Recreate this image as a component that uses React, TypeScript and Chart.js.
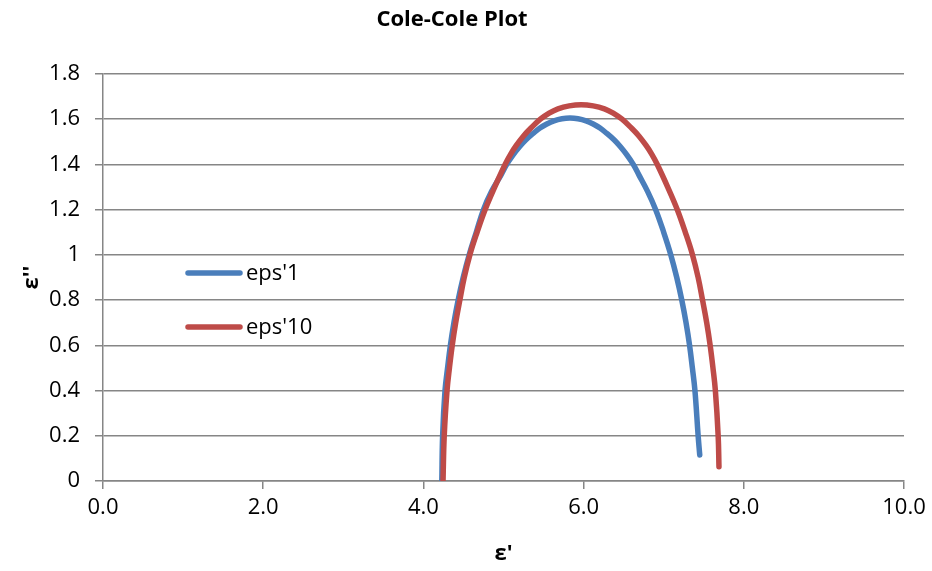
import React, { useEffect, useRef } from "react";
import { Chart, registerables } from "chart.js";

Chart.register(...registerables);

const chartTitle = "Cole-Cole Plot";
const xAxisTitle = "ε'";
const yAxisTitle = "ε''";

const seriesNames = ["eps'1", "eps'10"];
const seriesColors = ["#4A7EBB", "#BE4B48"];

const blueX = [4.23, 4.24, 4.27, 4.302, 4.337, 4.381, 4.434, 4.497, 4.571, 4.66, 4.75, 4.85, 4.97, 5.04, 5.12, 5.2, 5.28, 5.37, 5.455, 5.54, 5.63, 5.73, 5.83, 5.93, 6.03, 6.12, 6.205, 6.29, 6.38, 6.46, 6.54, 6.62, 6.69, 6.8, 6.9, 7.0, 7.089, 7.163, 7.226, 7.279, 7.323, 7.358, 7.39, 7.43, 7.45];
const blueY = [0.0, 0.2, 0.4, 0.5, 0.6, 0.7, 0.8, 0.9, 1.0, 1.1, 1.2, 1.28, 1.354, 1.4, 1.442, 1.478, 1.509, 1.537, 1.561, 1.579, 1.593, 1.602, 1.605, 1.602, 1.593, 1.579, 1.561, 1.537, 1.509, 1.478, 1.442, 1.4, 1.354, 1.28, 1.2, 1.1, 1.0, 0.9, 0.8, 0.7, 0.6, 0.5, 0.4, 0.2, 0.115];

const redX = [4.245, 4.26, 4.295, 4.325, 4.36, 4.403, 4.455, 4.51, 4.58, 4.67, 4.77, 4.89, 5.02, 5.09, 5.16, 5.25, 5.34, 5.46, 5.57, 5.68, 5.82, 5.97, 6.12, 6.26, 6.37, 6.48, 6.6, 6.69, 6.78, 6.85, 6.92, 7.05, 7.17, 7.27, 7.36, 7.43, 7.485, 7.537, 7.58, 7.615, 7.645, 7.68, 7.69];
const redY = [0.0, 0.2, 0.4, 0.5, 0.6, 0.7, 0.8, 0.9, 1.0, 1.1, 1.2, 1.3, 1.4, 1.446, 1.484, 1.526, 1.56, 1.6, 1.627, 1.646, 1.659, 1.664, 1.659, 1.646, 1.627, 1.6, 1.56, 1.526, 1.484, 1.446, 1.4, 1.3, 1.2, 1.1, 1.0, 0.9, 0.8, 0.7, 0.6, 0.5, 0.4, 0.2, 0.063];

const xMin = 0, xMax = 10, xStep = 2;
const yMin = 0, yMax = 1.8, yStep = 0.2;

const FONT = "'Open Sans', 'Liberation Sans', sans-serif";

const toPoints = (xs: number[], ys: number[]) => xs.map((x, i) => ({ x, y: ys[i] }));

const insideLegend = {
  id: "insideLegend",
  afterDatasetsDraw(chart: any) {
    const { ctx, chartArea } = chart;
    ctx.save();
    chart.data.datasets.forEach((ds: any, i: number) => {
      const y = chartArea.top + 199 + i * 54;
      const x0 = chartArea.left + 85;
      const x1 = chartArea.left + 137;
      ctx.strokeStyle = ds.borderColor;
      ctx.lineWidth = 5.5;
      ctx.lineCap = "round";
      ctx.beginPath();
      ctx.moveTo(x0, y);
      ctx.lineTo(x1, y);
      ctx.stroke();
      ctx.fillStyle = "#000";
      ctx.font = `22px ${FONT}`;
      ctx.textBaseline = "middle";
      ctx.textAlign = "left";
      ctx.fillText(ds.label, x1 + 6, y + 1);
    });
    ctx.restore();
  },
};

export default function App() {
  const ref = useRef<HTMLCanvasElement>(null);
  useEffect(() => {
    if (!ref.current) return;
    const mk = (i: number, xs: number[], ys: number[], order: number) => ({
      label: seriesNames[i],
      data: toPoints(xs, ys),
      borderColor: seriesColors[i],
      backgroundColor: seriesColors[i],
      borderWidth: 5.5,
      borderCapStyle: "round",
      borderJoinStyle: "round",
      pointRadius: 0,
      pointHoverRadius: 0,
      fill: false,
      tension: 0.4,
      order,
    });
    const chart = new Chart(ref.current, {
      type: "line",
      data: {
        datasets: [mk(0, blueX, blueY, 2), mk(1, redX, redY, 1)] as any,
      },
      options: {
        responsive: false,
        animation: false,
        layout: { padding: { left: 0, right: 28, top: 0, bottom: 4 } },
        plugins: {
          legend: { display: false },
          tooltip: { enabled: false },
          title: {
            display: true,
            text: chartTitle,
            color: "#000",
            font: { family: FONT, size: 22, weight: "bold" },
            padding: { top: 7, bottom: 40.6 },
          },
        },
        scales: {
          x: {
            type: "linear",
            min: xMin,
            max: xMax,
            afterFit: (s: any) => { s.height = 86; },
            ticks: {
              stepSize: xStep,
              color: "#000",
              font: { family: FONT, size: 22 },
              padding: 6,
              callback: (v: any) => Number(v).toFixed(1),
            },
            grid: { drawOnChartArea: false, drawTicks: true, tickLength: 8, color: "#868686", lineWidth: 1.5 },
            border: { display: true, color: "#868686", width: 1.5 },
            title: {
              display: true,
              text: xAxisTitle,
              color: "#000",
              font: { family: FONT, size: 22, weight: "bold" },
              padding: { top: 8, bottom: 0 },
            },
          },
          y: {
            type: "linear",
            min: yMin,
            max: yMax,
            afterFit: (s: any) => { s.width = 103; },
            ticks: {
              stepSize: yStep,
              color: "#000",
              font: { family: FONT, size: 22 },
              padding: 15,
              callback: (v: any) => String(Math.round(Number(v) * 10) / 10),
            },
            grid: { drawOnChartArea: true, drawTicks: true, tickLength: 8, color: "#868686", lineWidth: 1.5 },
            border: { display: true, color: "#868686", width: 1.5 },
            title: {
              display: true,
              text: yAxisTitle,
              color: "#000",
              font: { family: FONT, size: 22, weight: "bold" },
              padding: { top: 19, bottom: 0 },
            },
          },
        },
      },
      plugins: [insideLegend],
    });
    return () => chart.destroy();
  }, []);
  return (
    <div style={{ position: "absolute", left: 0, top: 0, width: 932, height: 571, background: "#fff" }}>
      <canvas ref={ref} width={932} height={571} />
    </div>
  );
}
